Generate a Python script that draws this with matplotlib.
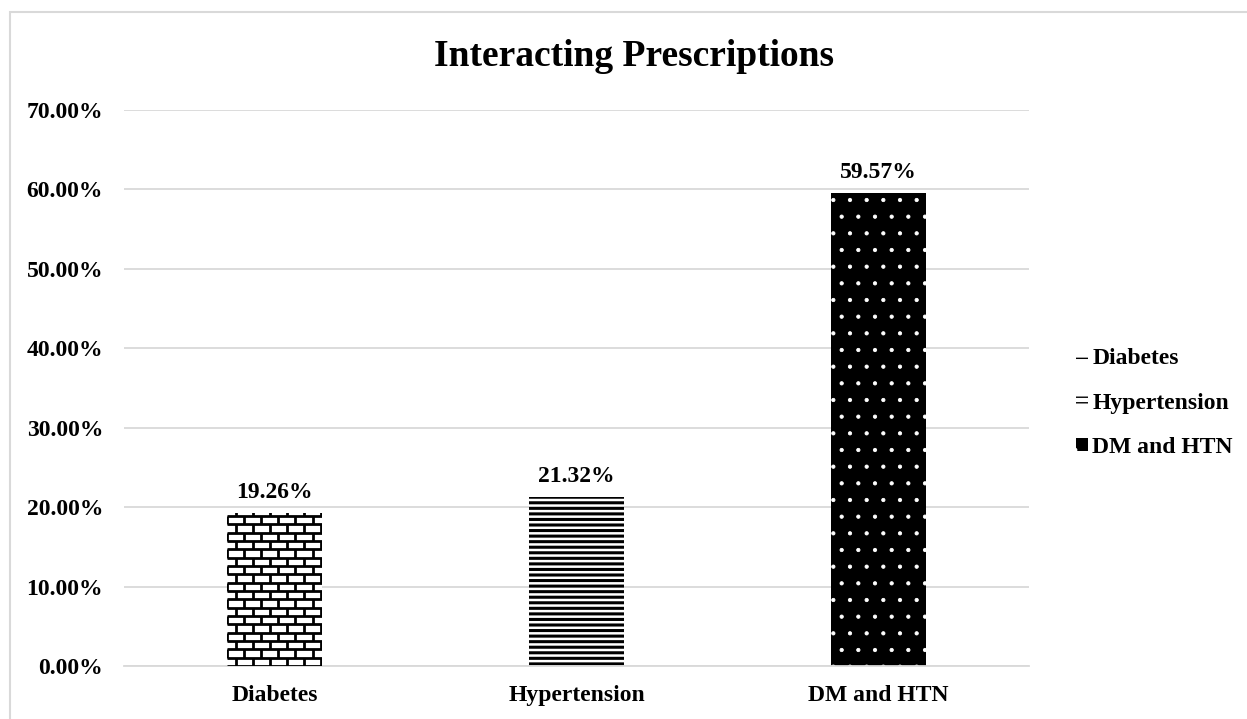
import matplotlib
matplotlib.use("Agg")
import matplotlib.pyplot as plt
import numpy as np
from matplotlib.patches import Patch, Rectangle
from matplotlib.collections import LineCollection

# Interacting prescriptions by patient group (percent)
categories = ["Diabetes", "Hypertension", "DM and HTN"]
values = [19.26, 21.32, 59.57]
y_ticks = [0, 10, 20, 30, 40, 50, 60, 70]

plt.rcParams['font.family'] = ['Liberation Serif', 'DejaVu Serif']
plt.rcParams['font.weight'] = 'bold'

fig = plt.figure(figsize=(12.47, 7.19), dpi=100)
ax = fig.add_axes([124 / 1247, 1 - 666 / 719, (1029 - 124) / 1247, (666 - 110) / 719])

# light grey frame around the whole chart
fig.patches.append(Rectangle((10 / 1247, -0.1), 1.2, 1 - 12 / 719 + 0.1,
                             transform=fig.transFigure, fill=False,
                             edgecolor='#d9d9d9', linewidth=1.5))

x = np.arange(len(categories))
width = 0.315

# Diabetes: white bar, brick pattern drawn on top and clipped to it
bar_dm = ax.bar(x[0], values[0], width, color='white', linewidth=0)[0]

# Hypertension: dense horizontal lines
with plt.rc_context({'hatch.linewidth': 2.2}):
    bar_htn = ax.bar(x[1], values[1], width, color='white', edgecolor='black',
                     hatch='---', linewidth=0)[0]

# DM and HTN: black with white dots
with plt.rc_context({'hatch.linewidth': 0.6}):
    bar_both = ax.bar(x[2], values[2], width, color='black', edgecolor='white',
                      hatch='.', linewidth=0)[0]

# brick pattern for the Diabetes bar
row_h = 1.05
brick_w = 0.0565
x0, x1 = x[0] - width / 2, x[0] + width / 2
segs = []
rows = np.arange(0, values[0] + row_h, row_h)
for i, yb in enumerate(rows):
    segs.append([(x0, yb), (x1, yb)])
    off = 0 if i % 2 == 0 else brick_w / 2
    for xv in np.arange(x0 - brick_w + off, x1 + brick_w, brick_w):
        segs.append([(xv, yb - row_h), (xv, yb)])
lc = LineCollection(segs, colors='black', linewidths=2.0, zorder=3)
ax.add_collection(lc)
lc.set_clip_path(bar_dm)

for xi, v in zip(x, values):
    ax.text(xi, v + 1.2, f"{v:.2f}%", ha='center', va='bottom',
            fontsize=17, fontweight='bold')

ax.set_xlim(-0.5, len(categories) - 0.5)
ax.set_ylim(0, 70)
ax.set_yticks(y_ticks)
ax.set_yticklabels([f"{t:.2f}%" for t in y_ticks])
ax.set_xticks(x)
ax.set_xticklabels(categories)
ax.tick_params(axis='both', length=0, labelsize=17)
ax.tick_params(axis='x', pad=14)
ax.tick_params(axis='y', pad=15)
ax.grid(axis='y', color='#d9d9d9', linewidth=1.3)
ax.set_axisbelow(True)
for side in ['top', 'right', 'left']:
    ax.spines[side].set_visible(False)
ax.spines['bottom'].set_color('#d9d9d9')
ax.spines['bottom'].set_linewidth(1.3)

fig.text(634 / 1247, 1 - 57 / 719, "Interacting Prescriptions", ha='center',
         va='center', fontsize=27, fontweight='bold')

with plt.rc_context({'hatch.linewidth': 1.2}):
    handles = [
        Patch(facecolor='white', edgecolor='black', hatch='+', linewidth=0),
        Patch(facecolor='white', edgecolor='black', hatch='---', linewidth=0),
        Patch(facecolor='black', edgecolor='white', hatch='.', linewidth=0),
    ]
fig.legend(handles, categories, loc='center left',
           bbox_to_anchor=(1064 / 1247, 1 - 403 / 719), frameon=False,
           fontsize=17, handlelength=0.5, handleheight=0.5,
           handletextpad=0.2, labelspacing=1.0, borderpad=0)

fig.savefig("out.png", dpi=100)
